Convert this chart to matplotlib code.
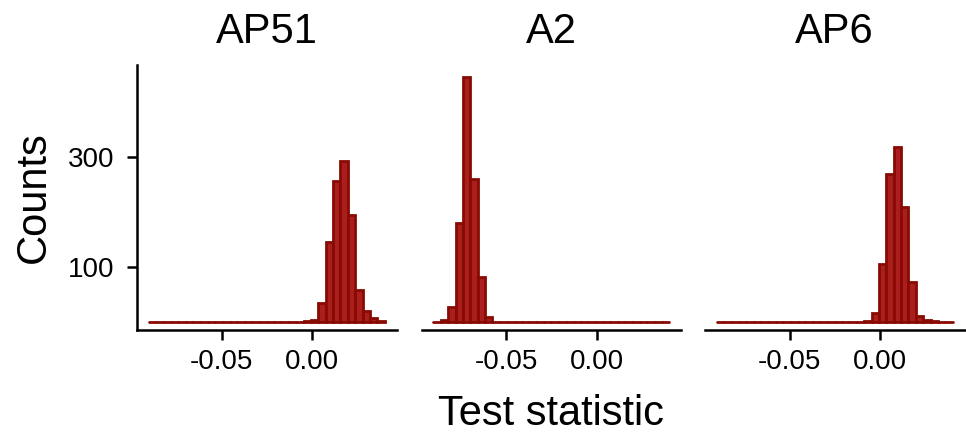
import numpy as np
import matplotlib
matplotlib.use('Agg')
import matplotlib.pyplot as plt

plt.rcParams['font.family'] = ['Liberation Sans', 'DejaVu Sans']

# facets and histogram bins (shared over all facets)
panels = ['AP51', 'A2', 'AP6']
bin_lo = -0.0903
bin_hi = 0.0402
n_bins = 32

# counts per bin
ap51 = [0, 0, 0, 0, 0, 0, 0, 0, 0, 0, 0, 0, 0, 0, 0, 0,
        0, 0, 0, 0, 0, 1, 3, 35, 145, 256, 292, 194, 57, 19, 6, 2]
a2 = [0, 3, 27, 180, 446, 259, 82, 9, 0, 0, 0, 0, 0, 0, 0, 0,
      0, 0, 0, 0, 0, 0, 0, 0, 0, 0, 0, 0, 0, 0, 0, 0]
ap6 = [0, 0, 0, 0, 0, 0, 0, 0, 0, 0, 0, 0, 0, 0, 0, 0,
       0, 0, 0, 0, 2, 16, 105, 269, 318, 208, 72, 11, 3, 1, 0, 0]
counts = [ap51, a2, ap6]

x_ticks = [-0.05, 0.0]
x_ticklabels = ['-0.05', '0.00']
y_ticks = [100, 300]

fill = '#aa1e1e'
edge = '#880b03'

edges = np.linspace(bin_lo, bin_hi, n_bins + 1)
span = bin_hi - bin_lo

W, H = 966, 436
fig = plt.figure(figsize=(W / 100, H / 100), dpi=100)

lefts = [137, 421.7, 705]
for i, (name, c) in enumerate(zip(panels, counts)):
    ax = fig.add_axes([lefts[i] / W, 1 - 330 / H, 259.5 / W, 265 / H])
    ax.bar(edges[:-1], c, width=np.diff(edges), align='edge',
           color=fill, edgecolor=edge, linewidth=2.0, capstyle='round')
    ax.set_xlim(bin_lo - 0.05 * span, bin_hi + 0.05 * span)
    ax.set_ylim(-15, 467)

    ax.spines['top'].set_visible(False)
    ax.spines['right'].set_visible(False)
    for s in ['left', 'bottom']:
        ax.spines[s].set_linewidth(1.8)

    ax.set_xticks(x_ticks)
    ax.set_xticklabels(x_ticklabels)
    ax.tick_params(axis='x', length=7, width=1.8, labelsize=20, pad=7)

    if i == 0:
        ax.set_yticks(y_ticks)
        ax.tick_params(axis='y', length=7, width=1.8, labelsize=20, pad=9)
    else:
        ax.spines['left'].set_visible(False)
        ax.set_yticks([])

    ax.set_title(name, fontsize=30, pad=16)

fig.text(550.5 / W, 1 - 425 / H, 'Test statistic', fontsize=30,
         ha='center', va='baseline')
fig.text(33.5 / W, 1 - 197.5 / H, 'Counts', fontsize=30, rotation=90,
         ha='center', va='center')

fig.savefig('out.png', dpi=100)
